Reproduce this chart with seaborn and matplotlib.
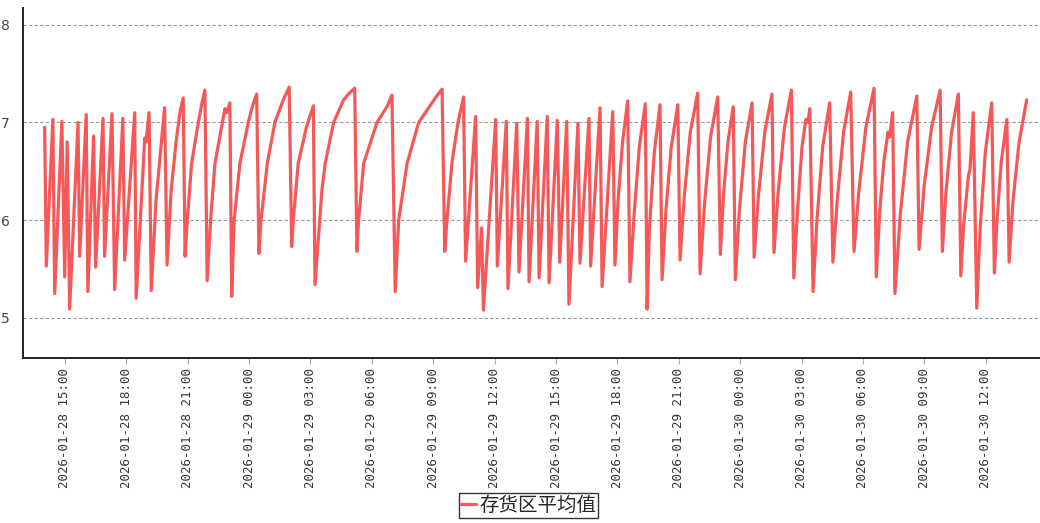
import numpy as np
import pandas as pd
import matplotlib
matplotlib.use('Agg')
import matplotlib.pyplot as plt
import matplotlib.dates as mdates
import seaborn as sns

# series: hours since 2026-01-28 14:00 and the average value
start = pd.Timestamp('2026-01-28 14:00')
hours = [0.01, 0.09, 0.41, 0.50, 0.85, 0.99, 1.11, 1.23, 1.64, 1.72,
         2.04, 2.12, 2.40, 2.50, 2.86, 2.94, 3.30, 3.43, 3.83, 3.92,
         4.41, 4.48, 4.90, 4.96, 5.11, 5.22, 5.45, 5.87, 5.99, 6.19,
         6.43, 6.62, 6.78, 6.87, 6.98, 7.19, 7.52, 7.68, 7.84, 7.95,
         8.12, 8.33, 8.66, 8.82, 8.90, 9.06, 9.15, 9.27, 9.55, 9.96,
         10.17, 10.37, 10.48, 10.58, 10.89, 11.26, 11.67, 11.96, 12.08, 12.16,
         12.40, 12.81, 12.89, 13.14, 13.22, 13.56, 13.72, 14.13, 14.62, 14.90,
         15.16, 15.27, 15.35, 15.60, 16.25, 16.74, 16.98, 17.14, 17.31, 17.72,
         18.29, 18.94, 19.20, 19.43, 19.56, 19.67, 19.92, 20.21, 20.48, 20.58,
         21.07, 21.17, 21.36, 21.45, 22.05, 22.13, 22.57, 22.65, 23.08, 23.19,
         23.60, 23.68, 24.08, 24.17, 24.57, 24.66, 25.06, 25.18, 25.52, 25.63,
         26.07, 26.17, 26.61, 26.69, 27.15, 27.25, 27.77, 27.88, 28.03, 28.25,
         28.50, 28.61, 28.82, 29.07, 29.36, 29.45, 29.56, 29.80, 30.08, 30.18,
         30.37, 30.63, 30.95, 31.06, 31.27, 31.56, 31.92, 32.04, 32.25, 32.55,
         32.90, 33.03, 33.18, 33.40, 33.66, 33.76, 33.96, 34.25, 34.58, 34.68,
         34.89, 35.20, 35.55, 35.65, 35.86, 36.16, 36.50, 36.62, 36.80, 37.02,
         37.21, 37.31, 37.40, 37.56, 37.75, 38.03, 38.37, 38.53, 38.74, 39.05,
         39.40, 39.56, 39.80, 40.14, 40.54, 40.65, 40.82, 41.02, 41.22, 41.30,
         41.45, 41.56, 41.82, 42.18, 42.63, 42.74, 42.99, 43.35, 43.77, 43.88,
         44.06, 44.33, 44.66, 44.78, 44.92, 45.15, 45.23, 45.39, 45.56, 45.72,
         45.98, 46.29, 46.42, 46.55, 46.76, 47.03, 47.14, 47.33, 47.63, 48.00]
values = [6.95, 5.53, 7.03, 5.25, 7.01, 5.42, 6.80, 5.09, 7.00, 5.63,
          7.08, 5.27, 6.86, 5.52, 7.04, 5.63, 7.09, 5.29, 7.04, 5.59,
          7.10, 5.20, 6.84, 6.80, 7.10, 5.28, 6.20, 7.15, 5.54, 6.30,
          6.80, 7.10, 7.25, 5.63, 6.00, 6.58, 7.00, 7.18, 7.33, 5.38,
          6.00, 6.58, 6.96, 7.14, 7.10, 7.20, 5.22, 6.00, 6.58, 7.00,
          7.17, 7.29, 5.66, 6.00, 6.58, 7.00, 7.23, 7.36, 5.73, 6.00,
          6.58, 6.96, 7.01, 7.17, 5.34, 6.31, 6.58, 7.00, 7.23, 7.30,
          7.35, 5.68, 6.00, 6.58, 7.00, 7.16, 7.28, 5.27, 6.00, 6.58,
          7.00, 7.20, 7.28, 7.34, 5.68, 6.00, 6.60, 7.00, 7.26, 5.58,
          7.06, 5.31, 5.92, 5.08, 7.03, 5.53, 7.01, 5.30, 6.99, 5.47,
          7.04, 5.37, 7.01, 5.41, 7.06, 5.36, 7.02, 5.57, 7.01, 5.14,
          6.99, 5.56, 7.04, 5.53, 7.15, 5.32, 7.11, 5.54, 6.20, 6.80,
          7.22, 5.37, 6.07, 6.75, 7.19, 5.09, 5.90, 6.69, 7.18, 5.39,
          6.10, 6.75, 7.18, 5.59, 6.25, 6.90, 7.30, 5.45, 6.15, 6.85,
          7.26, 5.65, 6.25, 6.80, 7.16, 5.39, 6.10, 6.80, 7.20, 5.62,
          6.25, 6.90, 7.29, 5.67, 6.30, 6.95, 7.33, 5.41, 6.10, 6.75,
          7.03, 7.00, 7.14, 5.27, 6.00, 6.75, 7.20, 5.57, 6.20, 6.90,
          7.31, 5.68, 6.30, 6.95, 7.35, 5.42, 6.10, 6.60, 6.90, 6.85,
          7.10, 5.25, 6.05, 6.80, 7.27, 5.70, 6.35, 6.95, 7.33, 5.68,
          6.30, 6.90, 7.29, 5.43, 5.95, 6.45, 6.52, 7.10, 5.10, 5.90,
          6.70, 7.20, 5.46, 6.00, 6.60, 7.03, 5.57, 6.20, 6.80, 7.23]
series_name = '存货区平均值'
y_ticks = [5, 6, 7, 8]

df = pd.DataFrame({'time': start + pd.to_timedelta(hours, unit='h'),
                   'value': values})

sns.set_style('white')
plt.rcParams['font.family'] = ['DejaVu Sans', 'Noto Sans CJK SC']

fig = plt.figure(figsize=(10.4, 5.23), dpi=100)
ax = fig.add_axes([0.0221, 0.3155, 0.9779, 0.6692])

sns.lineplot(data=df, x='time', y='value', ax=ax, color='#f45858',
             linewidth=2.3, label=series_name, sort=False)

ax.set_xlim(start - pd.Timedelta(minutes=63), start + pd.Timedelta(hours=48, minutes=39))
ax.set_ylim(4.59, 8.17)
ax.set_yticks(y_ticks)
ax.set_xlabel('')
ax.set_ylabel('')

ax.xaxis.set_major_locator(mdates.HourLocator(byhour=range(0, 24, 3)))
ax.xaxis.set_major_formatter(mdates.DateFormatter('%Y-%m-%d %H:%M'))
for lab in ax.get_xticklabels():
    lab.set_rotation(90)
    lab.set_family('DejaVu Sans Mono')
    lab.set_fontsize(9)
    lab.set_color('#333333')
for lab in ax.get_yticklabels():
    lab.set_fontsize(10)
    lab.set_color('#444444')

ax.tick_params(axis='x', bottom=True, length=4, width=0.8, color='#aaaaaa', pad=3)
ax.tick_params(axis='y', left=False, pad=6)

ax.yaxis.grid(True, color='#999999', linestyle=(0, (3, 2)), linewidth=0.8)
ax.xaxis.grid(False)

sns.despine(ax=ax, top=True, right=True)
ax.spines['left'].set_color('#222222')
ax.spines['bottom'].set_color('#222222')
ax.spines['left'].set_linewidth(1.4)
ax.spines['bottom'].set_linewidth(1.4)

handles, labels = ax.get_legend_handles_labels()
ax.get_legend().remove()
leg = fig.legend(handles, labels, loc='upper center', bbox_to_anchor=(0.508, 0.057),
                 prop={'family': 'Noto Sans CJK SC', 'size': 14},
                 frameon=True, fancybox=False, handlelength=0.8, handletextpad=0.15,
                 borderpad=0.1, borderaxespad=0)
leg.get_frame().set_edgecolor('#000000')
leg.get_frame().set_linewidth(1.0)

fig.savefig('out.png', dpi=100)
